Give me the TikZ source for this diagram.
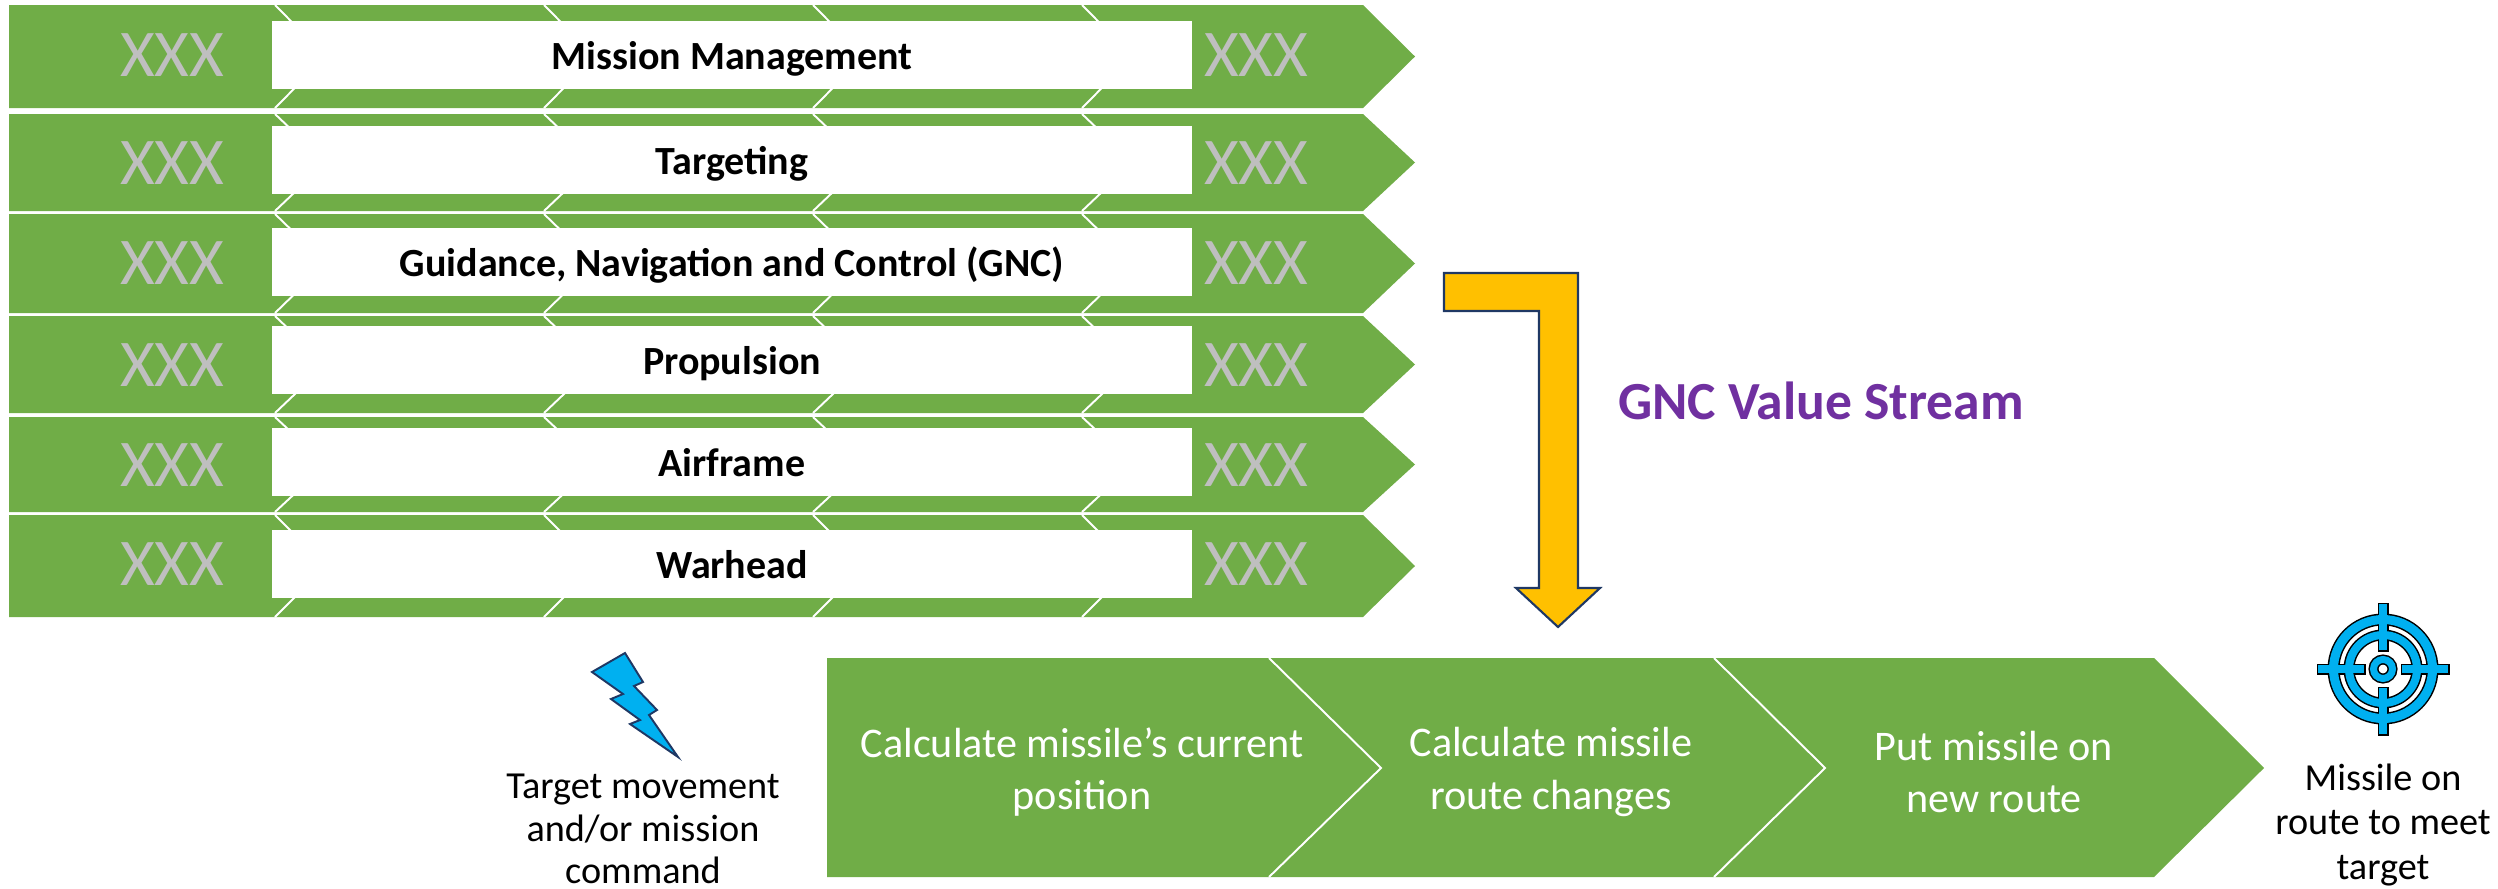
\documentclass[tikz,border=0pt]{standalone}
\usepackage{fontspec}
\setmainfont{Carlito}
\definecolor{streamgreen}{HTML}{70AD47}
\definecolor{xxxgrey}{HTML}{BFBFBF}
\definecolor{arrowgold}{HTML}{FFC000}
\definecolor{edgenavy}{HTML}{1F3864}
\definecolor{iconblue}{HTML}{00B0F0}
\definecolor{titlepurple}{HTML}{7030A0}
\tikzset{
  px/.style={x=0.04cm,y=-0.04cm},
  rowfill/.style={fill=streamgreen,draw=none},
  sepline/.style={draw=white,line width=2.2pt},
  rowlabel/.style={fill=white,minimum width=36.8cm,minimum height=2.72cm,inner sep=0pt,text height=33pt,text depth=0.6pt,font=\fontsize{45.5pt}{45.5pt}\selectfont\bfseries},
  xxxlabel/.style={text=xxxgrey,font=\fontsize{76pt}{76pt}\selectfont,inner sep=0pt},
  steplabel/.style={text=white,align=center,font=\fontsize{48pt}{60pt}\selectfont,inner sep=0pt},
  sidelabel/.style={align=center,font=\fontsize{43.5pt}{51pt}\selectfont,inner sep=0pt},
}
\begin{document}
\begin{tikzpicture}[px]
  \useasboundingbox (0,0) rectangle (2498,888);
  % function rows
  \foreach \ytop/\ybot/\ybox/\yxxx/\name/\rowtext in {
      5/108/55/55/mission/Mission Management,
      114/211/160/163/targeting/Targeting,
      214/313/262/263/gnc/{Guidance, Navigation and Control (GNC)},
      316/413/360/365/propulsion/Propulsion,
      417/512/462/465/airframe/Airframe,
      515/617/564/564/warhead/Warhead} {
    \pgfmathsetmacro{\ymid}{(\ytop+\ybot)/2}
    \fill[rowfill] (9,\ytop) -- (1363,\ytop) -- (1415,\ymid) -- (1363,\ybot) -- (9,\ybot) -- cycle;
    \foreach \xsep in {275,544,813,1082} {
      \draw[sepline] (\xsep,\ytop) -- (\xsep+51,\ymid) -- (\xsep,\ybot);
    }
    \node[rowlabel] (\name) at (732,\ybox) {\rowtext};
    \node[xxxlabel] (\name left) at (172,\yxxx) {XXX};
    \node[xxxlabel] (\name right) at (1256,\yxxx) {XXX};
  }
  % bent arrow
  \fill[arrowgold,draw=edgenavy,line width=2.4pt] (1444,273) -- (1578,273) -- (1578,588) -- (1600,588) -- (1558,627) -- (1516,588) -- (1539,588) -- (1539,311) -- (1444,311) -- cycle;
  \node[text=titlepurple,font=\fontsize{61pt}{61pt}\selectfont\bfseries,inner sep=0pt] (title) at (1821,401) {GNC Value Stream};
  % value stream
  \fill[rowfill] (827,658) -- (2154,658) -- (2264,768) -- (2154,877) -- (827,877) -- cycle;
  \draw[sepline] (1269,658) -- (1381,768) -- (1269,877);
  \draw[sepline] (1714,658) -- (1825,768) -- (1714,877);
  \node[steplabel] (current) at (1082,772) {Calculate missile’s current\\position};
  \node[steplabel] (changes) at (1551,772) {Calculate missile\\route changes};
  \node[steplabel] (route) at (1994,772) {Put missile on\\new route};
  % trigger
  \fill[iconblue,draw=edgenavy,line width=2.2pt] (625,653) -- (592,672) -- (623,694) -- (611,699) -- (640,720) -- (630,724) -- (678,757) -- (649,715) -- (657,710) -- (634,686) -- (643,682) -- cycle;
  \node[sidelabel,font=\fontsize{43.5pt}{48pt}\selectfont] (trigger) at (643,829) {Target movement\\and/or mission\\command};
  % target icon, outline first and blue over it
  \begin{scope}[shift={(2383,669)}]
    \foreach \grow/\ink in {3/black,0/iconblue} {
      \foreach \rad/\wid in {49.5/9,34/8,9.5/7} {
        \draw[\ink,line width=(\wid+\grow)*0.04cm] (0,0) circle ({\rad*0.04cm});
      }
      \foreach \ang in {0,90,180,270} {
        \begin{scope}[rotate=\ang]
          \fill[\ink] (19-\grow/2,-4-\grow/2) rectangle (65+\grow/2,4+\grow/2);
        \end{scope}
      }
    }
  \end{scope}
  \node[sidelabel] (outcome) at (2383,825) {Missile on\\route to meet\\target};
\end{tikzpicture}
\end{document}
